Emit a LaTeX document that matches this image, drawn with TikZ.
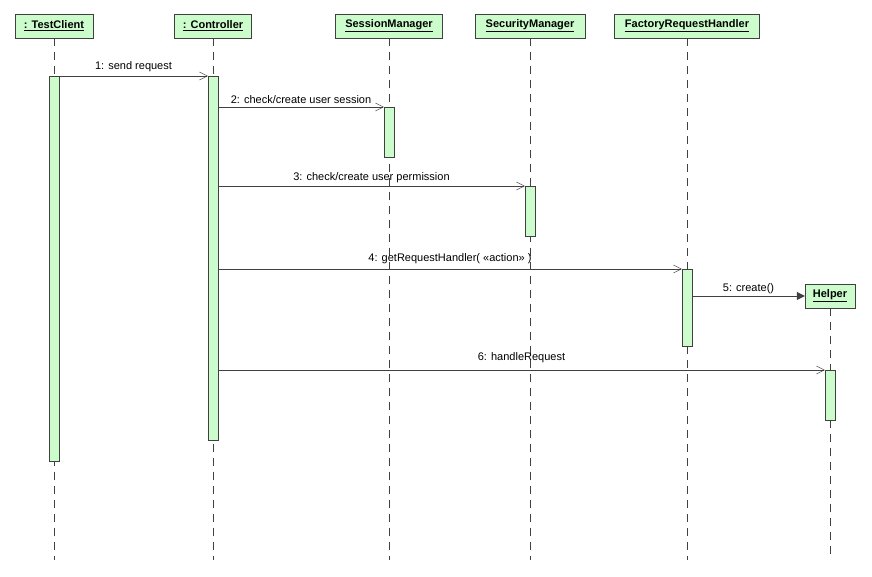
\documentclass[tikz,border=0pt]{standalone}
\usepackage{fontspec}
\setmainfont{Liberation Sans}
\usetikzlibrary{arrows.meta}
\definecolor{act}{HTML}{CCFCCC}
\definecolor{ln}{HTML}{404040}
\begin{document}
\begin{tikzpicture}[x=1pt,y=-1pt,
  hdr/.style={draw=ln,fill=act,minimum height=24pt,inner sep=3pt,font=\fontsize{11}{13}\selectfont\bfseries},
  life/.style={draw=ln,dash pattern=on 8pt off 6pt},
  actb/.style={draw=ln,fill=act},
  msg/.style={draw=ln,-{Straight Barb[length=8pt,width=8pt]}},
  cmsg/.style={draw=ln,-{Triangle[length=8pt,width=8pt]}},
  lbl/.style={font=\fontsize{11}{13}\selectfont,text=black,inner sep=1pt}]
\useasboundingbox (0,0) rectangle (872,576);
\fill[white] (0,0) rectangle (872,576);
\node[hdr,minimum width=78pt] (tc) at (54,26) {\underline{: TestClient}};
\node[hdr,minimum width=77pt] (ct) at (213,26) {\underline{: Controller}};
\node[hdr,minimum width=107pt] (sm) at (389,26) {\underline{SessionManager}};
\node[hdr,minimum width=110pt] (sc) at (530,26) {\underline{SecurityManager}};
\node[hdr,minimum width=145pt] (fr) at (687,26) {\underline{FactoryRequestHandler}};
\node[hdr,minimum width=50pt] (hp) at (830,296) {\underline{Helper}};
\coordinate (tce) at (54,560); \coordinate (cte) at (213,560);
\coordinate (sme) at (389,560); \coordinate (sce) at (530,560);
\coordinate (fre) at (687,560); \coordinate (hpe) at (830,560);
\draw[life] (tc.south) -- (tce);
\draw[life] (ct.south) -- (cte);
\draw[life] (sm.south) -- (sme);
\draw[life] (sc.south) -- (sce);
\draw[life] (fr.south) -- (fre);
\draw[life] (hp.south) -- (hpe);
\node[actb,minimum width=10pt,minimum height=385pt,inner sep=0pt,anchor=north] (a1) at (54,76) {};
\node[actb,minimum width=10pt,minimum height=364pt,inner sep=0pt,anchor=north] (a2) at (213,76) {};
\node[actb,minimum width=10pt,minimum height=50pt,inner sep=0pt,anchor=north] (a3) at (389,107) {};
\node[actb,minimum width=10pt,minimum height=50pt,inner sep=0pt,anchor=north] (a4) at (530,186) {};
\node[actb,minimum width=10pt,minimum height=77pt,inner sep=0pt,anchor=north] (a5) at (687,269) {};
\node[actb,minimum width=10pt,minimum height=50pt,inner sep=0pt,anchor=north] (a6) at (830,370) {};
\draw[msg] (a1.north east) -- node[lbl,above=3pt]{1: send request} (a2.north west);
\draw[msg] (a2.east |- a3.north) -- node[lbl,above=2pt]{2: check/create user session} (a3.north west);
\draw[msg] (a2.east |- a4.north) -- node[lbl,above=2pt]{3: check/create user permission} (a4.north west);
\draw[msg] (a2.east |- a5.north) -- node[lbl,above=4pt]{4: getRequestHandler( <<action>> )} (a5.north west);
\draw[cmsg] (a5.east |- hp.west) -- node[lbl,above=1pt]{5: create()} (hp.west);
\draw[msg] (a2.east |- a6.north) -- node[lbl,above=6pt]{6: handleRequest} (a6.north west);
\end{tikzpicture}
\end{document}
